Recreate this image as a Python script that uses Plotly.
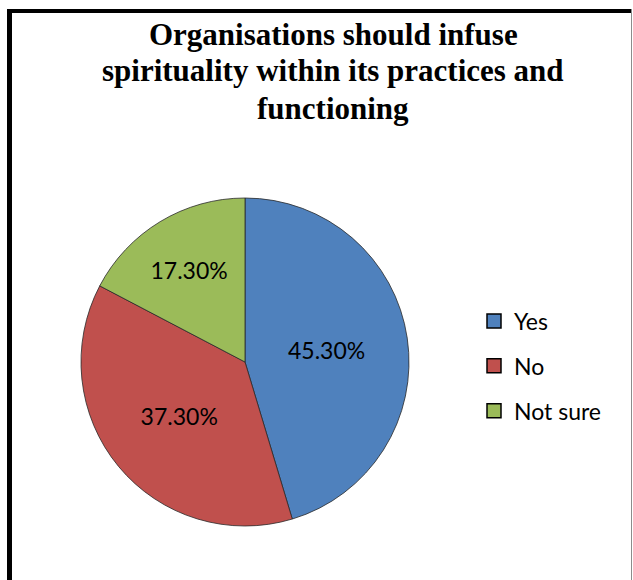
import plotly.graph_objects as go

categories = ["Yes", "No", "Not sure"]
values = [45.3, 37.3, 17.3]
colors = ["#4F81BD", "#C0504D", "#9BBB59"]
title_lines = ["Organisations should infuse", "spirituality within its practices and", "functioning"]

W, H = 633, 580

fig = go.Figure()
fig.add_trace(go.Pie(
    labels=categories, values=values, sort=False, direction="clockwise", rotation=0,
    marker=dict(colors=colors, line=dict(color="#2a2a2a", width=0.8)),
    texttemplate="%{value:.2f}%", textposition="inside", insidetextorientation="horizontal",
    textfont=dict(family="Lato", size=23, color="black"),
    domain=dict(x=[(245 - 164) / W, (245 + 164) / W], y=[1 - (362 + 164) / H, 1 - (362 - 164) / H]),
    showlegend=False, hoverinfo="label+percent",
))
for i, (c, col) in enumerate(zip(categories, colors)):
    fig.add_trace(go.Scatter(
        x=[None], y=[None], mode="markers", name=c, legendgroup=c,
        marker=dict(symbol="square", size=14, color=col, line=dict(color="black", width=1.5)),
    ))

shapes = [
    dict(type="rect", xref="paper", yref="paper", x0=7 / W, x1=12 / W, y0=0, y1=1 - 9 / H,
         fillcolor="black", line=dict(width=0)),
    dict(type="rect", xref="paper", yref="paper", x0=7 / W, x1=632 / W, y0=1 - 13 / H, y1=1 - 9 / H,
         fillcolor="black", line=dict(width=0)),
    dict(type="rect", xref="paper", yref="paper", x0=631 / W, x1=632 / W, y0=0, y1=1 - 9 / H,
         fillcolor="#8c8c8c", line=dict(width=0)),
]

title_y = [34, 71, 108]
annotations = [
    dict(text="<b>" + t + "</b>", xref="paper", yref="paper",
         x=333 / W, xanchor="center", y=1 - yy / H, yanchor="middle", showarrow=False,
         font=dict(family="Liberation Serif", size=31, color="black"))
    for t, yy in zip(title_lines, title_y)
]

fig.update_layout(
    width=W, height=H, margin=dict(l=0, r=0, t=0, b=0),
    paper_bgcolor="white", plot_bgcolor="white",
    xaxis=dict(visible=False), yaxis=dict(visible=False),
    annotations=annotations,
    legend=dict(x=474 / W, xanchor="left", y=1 - 366 / H, yanchor="middle",
                font=dict(family="Lato", size=23, color="black"),
                traceorder="grouped", tracegroupgap=12, itemwidth=30, bgcolor="rgba(0,0,0,0)"),
    shapes=shapes,
)

fig.write_html("out.html")
